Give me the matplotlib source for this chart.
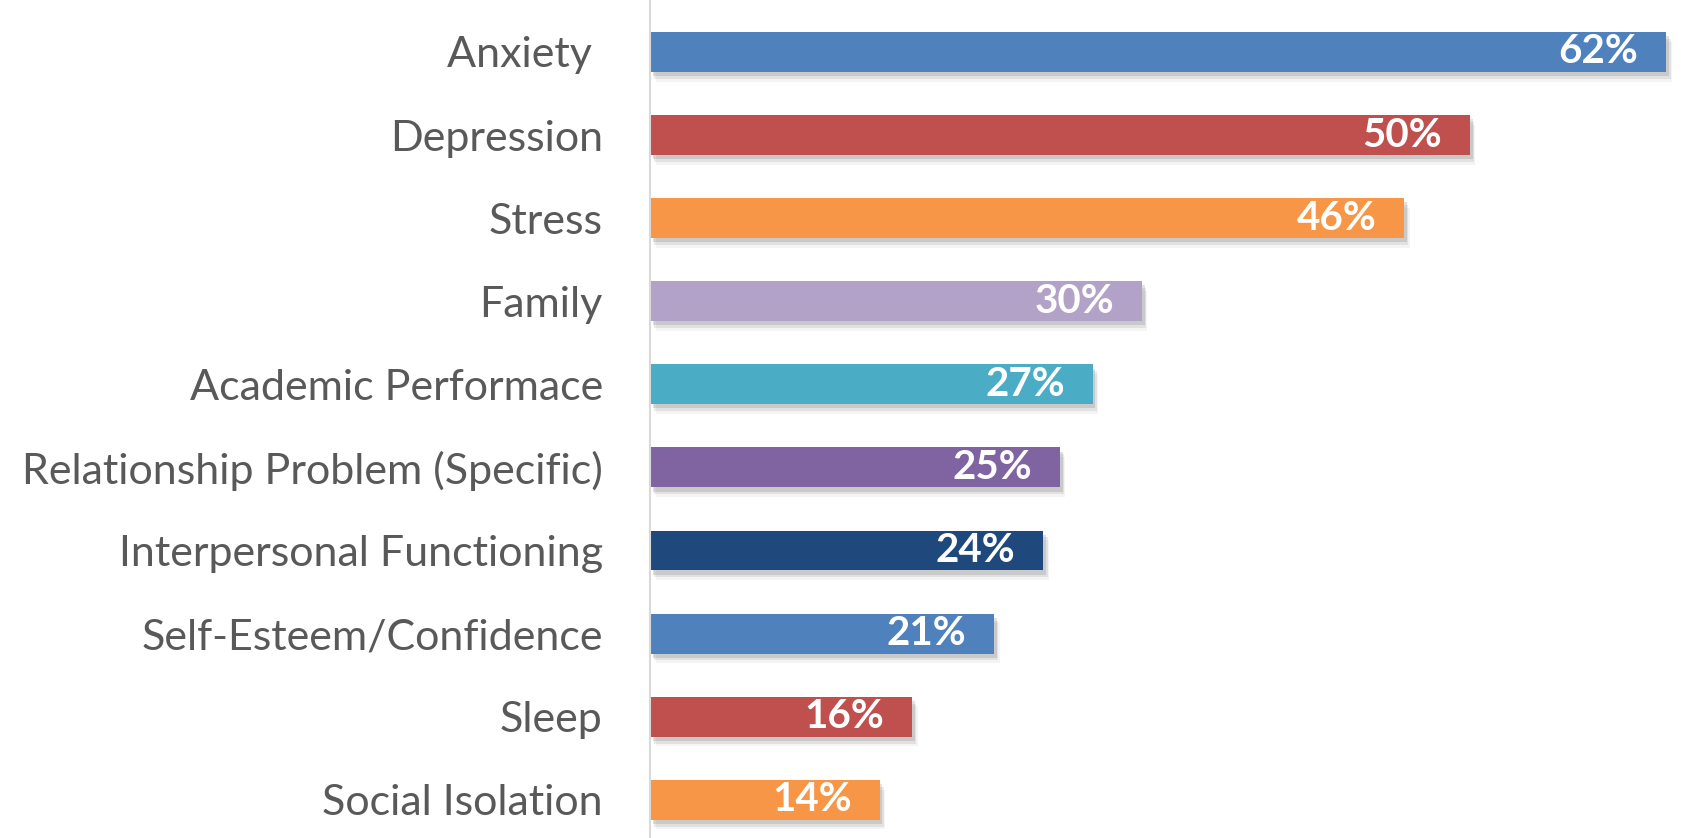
import numpy as np
import matplotlib.pyplot as plt
import matplotlib.patheffects as pe

# Data
categories = ['Anxiety ', 'Depression', 'Stress', 'Family', 'Academic Performace',
              'Relationship Problem (Specific)', 'Interpersonal Functioning',
              'Self-Esteem/Confidence', 'Sleep', 'Social Isolation']
values = [62, 50, 46, 30, 27, 25, 24, 21, 16, 14]
colors = ['#4F81BD', '#C0504D', '#F79646', '#B3A2C7', '#4BACC6',
          '#8064A2', '#1F497D', '#4F81BD', '#C0504D', '#F79646']

plt.rcParams['font.family'] = ['Lato', 'DejaVu Sans']

fig = plt.figure(figsize=(16.96, 8.38), dpi=100)
ax = fig.add_axes([650/1696, 0.0, 1046/1696, 1.0])

y = np.arange(len(categories))
# soft drop shadow built from a few stacked offsets
shadow = [pe.SimplePatchShadow(offset=(2, -3), shadow_rgbFace='#666666', alpha=0.2),
          pe.SimplePatchShadow(offset=(3, -5), shadow_rgbFace='#777777', alpha=0.15),
          pe.SimplePatchShadow(offset=(4, -7), shadow_rgbFace='#888888', alpha=0.09),
          pe.Normal()]
bars = ax.barh(y, values, height=0.48, color=colors, path_effects=shadow)

for rect, v in zip(bars, values):
    ax.annotate(f'{v}%', xy=(rect.get_width(), rect.get_y() + rect.get_height()/2),
                xytext=(-28, 0), textcoords='offset pixels',
                ha='right', va='center', color='white', fontsize=29, fontweight='bold')

ax.set_xlim(0, 63.8)
ax.set_ylim(9.46, -0.625)
ax.set_yticks(y)
ax.set_yticklabels(categories, fontsize=31, color='#595959')
ax.tick_params(axis='y', length=0, pad=34)
ax.set_xticks([])
for s in ['top', 'right', 'bottom']:
    ax.spines[s].set_visible(False)
ax.spines['left'].set_color('#D9D9D9')
ax.spines['left'].set_linewidth(1.5)

plt.savefig('out.png', dpi=100)
